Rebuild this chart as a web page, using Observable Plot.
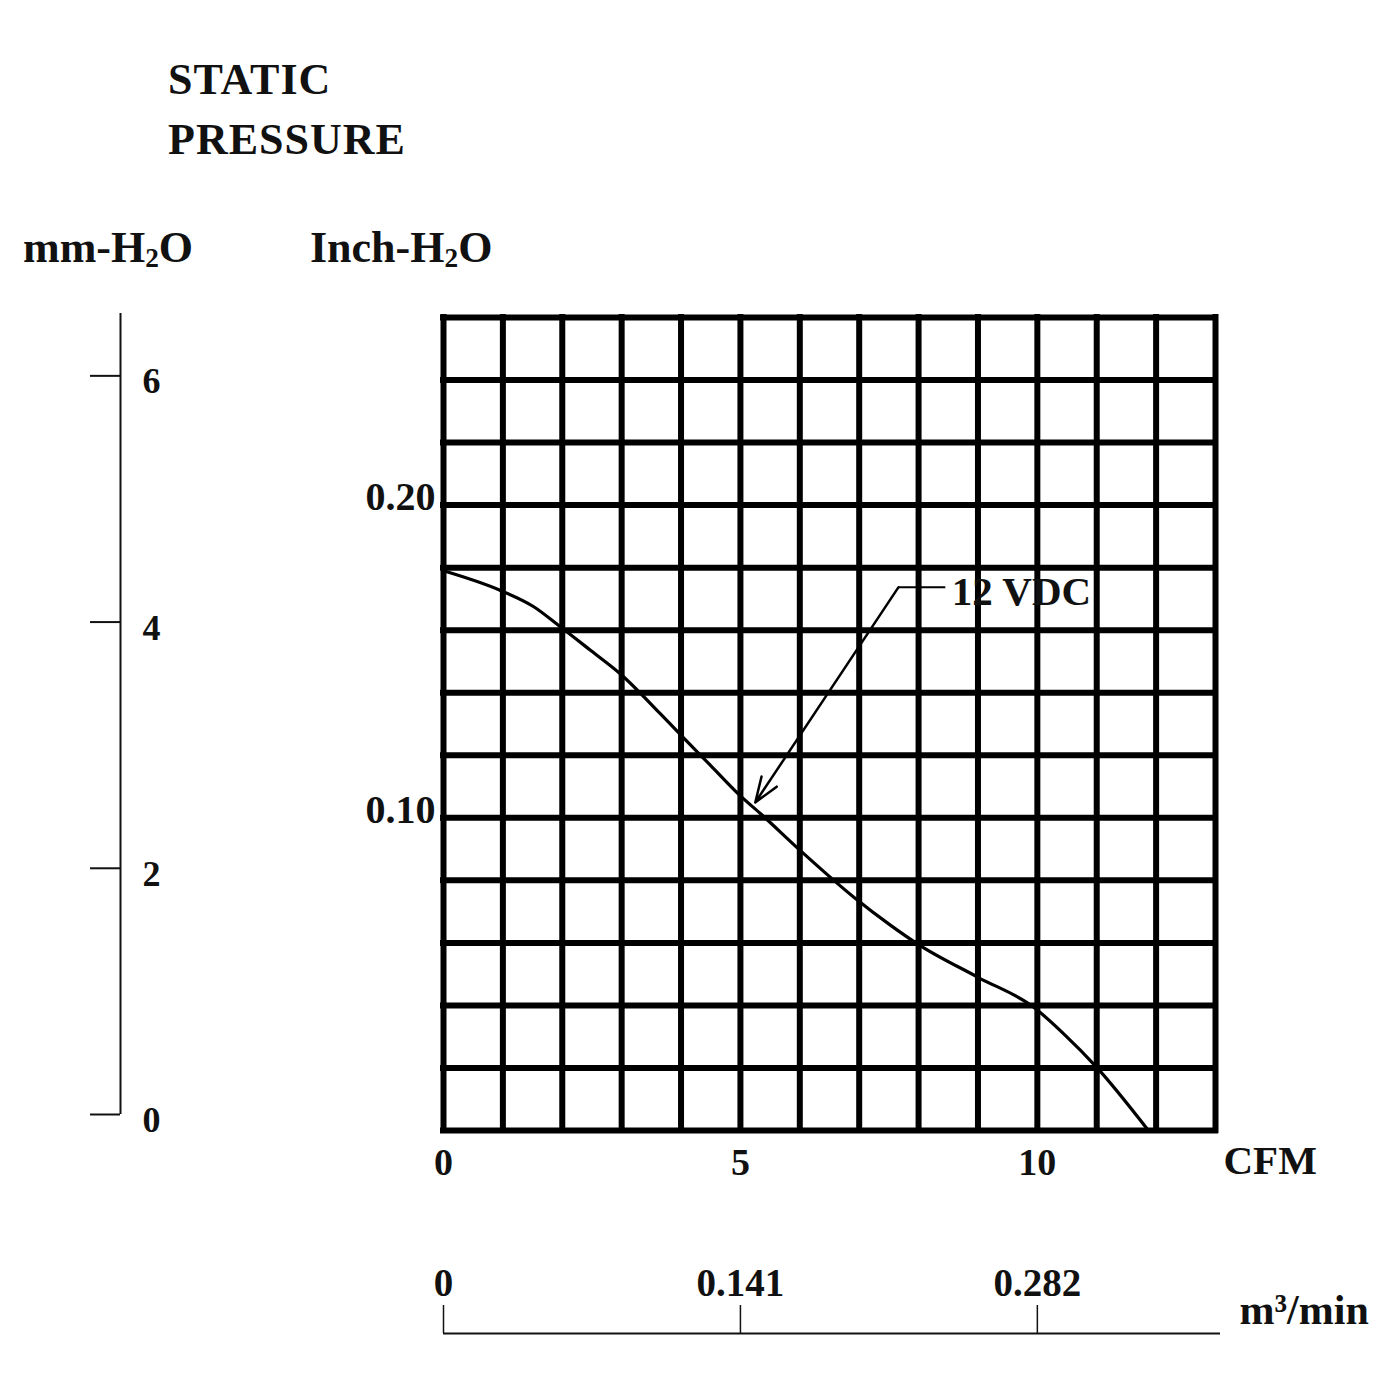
<!DOCTYPE html>
<html>
<head>
<meta charset="utf-8">
<script src="https://cdn.jsdelivr.net/npm/d3@7"></script>
<script src="https://cdn.jsdelivr.net/npm/@observablehq/plot@0.6"></script>
<style>
  html, body { margin: 0; padding: 0; background: white; }
  #page { position: relative; width: 1400px; height: 1400px; }
  #head { position: relative; width: 1400px; height: 300px; }
  .h { position: absolute; font-family: "Liberation Serif", "Times New Roman", serif; font-weight: bold; font-size: 44px; line-height: 44px; color: #111; white-space: nowrap; }
  .h.t { letter-spacing: 1px; }
  .h sub { font-size: 0.62em; vertical-align: -0.17em; line-height: 0; }
</style>
</head>
<body>
<div id="page">
  <div id="head">
    <div class="h t" style="left:168px;top:58px">STATIC</div>
    <div class="h t" style="left:168px;top:118px">PRESSURE</div>
    <div class="h" style="left:23px;top:226px">mm-H<sub>2</sub>O</div>
    <div class="h" style="left:310px;top:226px">Inch-H<sub>2</sub>O</div>
  </div>
  <div id="chart"></div>
</div>
<script>
// ---- data ----
const cfm     = [0, 0.96, 1.52, 1.94, 2.48, 2.98, 3.65, 3.99, 4.50, 5.0, 5.34, 6.01, 6.91, 7.53, 7.98, 9.0, 9.94, 10.44, 11.0, 11.87];
const inchH2O = [0.179, 0.1727, 0.1675, 0.1615, 0.1535, 0.146, 0.1333, 0.1266, 0.1167, 0.107, 0.1013, 0.0895, 0.0746, 0.0656, 0.0597, 0.049, 0.0394, 0.031, 0.0202, 0];

const cfmGrid    = d3.range(0, 14);                       // grid columns 0..13 CFM
const inchGrid   = d3.range(0, 14).map(i => i * 0.02);    // grid rows 0..0.26 inch
const cfmLabels  = [0, 5, 10];
const inchLabels = [0.20, 0.10];
const mmTicks    = [0, 2, 4, 6];
const m3Ticks    = [0, 0.141, 0.282];
const MM_PER_INCH = 25.4;
const M3_PER_CFM  = 0.0282;   // chart's own conversion (0.141 m3/min = 5 CFM)

const seriesLabel = [{cfm: 8.56, inch: 0.1724, text: "12 VDC"}];
const leader      = [{x1: 7.66, y1: 0.1737, x2: 8.45, y2: 0.1737}];
const pointer     = [{x1: 7.66, y1: 0.1737, x2: 5.25, y2: 0.1049}];

const curve = cfm.map((c, i) => ({cfm: c, inch: inchH2O[i]}));

// ---- layout ----
const W = 1400, H = 1100, ML = 443, MR = 185, MT = 17, MB = 270;
const FW = W - ML - MR, FH = H - MT - MB;
const FONT = "'Liberation Serif', 'Times New Roman', serif";

const chart = Plot.plot({
  width: W, height: H,
  marginLeft: ML, marginRight: MR, marginTop: MT, marginBottom: MB,
  x: {domain: [0, 13], axis: null},
  y: {domain: [0, 0.26], axis: null},
  style: {fontFamily: FONT, fontWeight: "bold", background: "white", color: "#111", overflow: "visible"},
  marks: [
    // grid
    Plot.ruleX(cfmGrid, {stroke: "#000", strokeWidth: 6, strokeLinecap: "square"}),
    Plot.ruleY(inchGrid, {stroke: "#000", strokeWidth: 6, strokeLinecap: "square"}),
    // fan curve
    Plot.line(curve, {x: "cfm", y: "inch", curve: "monotone-x", stroke: "#000", strokeWidth: 3.2}),
    // series annotation
    Plot.link(leader, {x1: "x1", y1: "y1", x2: "x2", y2: "y2", stroke: "#000", strokeWidth: 2}),
    Plot.arrow(pointer, {x1: "x1", y1: "y1", x2: "x2", y2: "y2", stroke: "#000", strokeWidth: 2.5, headLength: 16, headAngle: 40, bend: 0}),
    Plot.text(seriesLabel, {x: "cfm", y: "inch", text: "text", textAnchor: "start", lineAnchor: "middle", fontSize: 41, fill: "#111"}),
    // inch-H2O labels
    Plot.text(inchLabels, {y: d => d, frameAnchor: "left", dx: -8, dy: -8, textAnchor: "end", lineAnchor: "middle", fontSize: 40, text: d => d.toFixed(2)}),
    // mm-H2O axis (left)
    Plot.ruleX([0], {dx: -323, dy: -16, insetTop: 12, stroke: "#111", strokeWidth: 2}),
    Plot.ruleY(mmTicks, {y: d => d / MM_PER_INCH, insetRight: FW - 30, dx: -353, dy: -16, stroke: "#111", strokeWidth: 2}),
    Plot.text(mmTicks, {y: d => d / MM_PER_INCH, frameAnchor: "left", dx: -301, dy: -10, textAnchor: "start", lineAnchor: "middle", fontSize: 36, text: d => String(d)}),
    // CFM labels
    Plot.text(cfmLabels, {x: d => d, frameAnchor: "bottom", dy: 32, lineAnchor: "middle", fontSize: 38, text: d => String(d)}),
    Plot.text(["CFM"], {frameAnchor: "bottom-right", textAnchor: "start", lineAnchor: "middle", dx: 8, dy: 30, fontSize: 41, text: d => d}),
    // m3/min axis (bottom)
    Plot.ruleY([0], {dy: 203, insetRight: -5, stroke: "#111", strokeWidth: 2}),
    Plot.ruleX(m3Ticks, {x: d => d / M3_PER_CFM, insetTop: FH - 28, dy: 203, stroke: "#111", strokeWidth: 1.5}),
    Plot.text(m3Ticks, {x: d => d / M3_PER_CFM, frameAnchor: "bottom", dy: 153, lineAnchor: "middle", fontSize: 39, text: d => d === 0 ? "0" : d.toFixed(3)}),
    Plot.text(["m³/min"], {frameAnchor: "bottom-right", textAnchor: "start", lineAnchor: "middle", dx: 24, dy: 180, fontSize: 42, text: d => d})
  ]
});
document.getElementById("chart").appendChild(chart);
</script>
</body>
</html>
